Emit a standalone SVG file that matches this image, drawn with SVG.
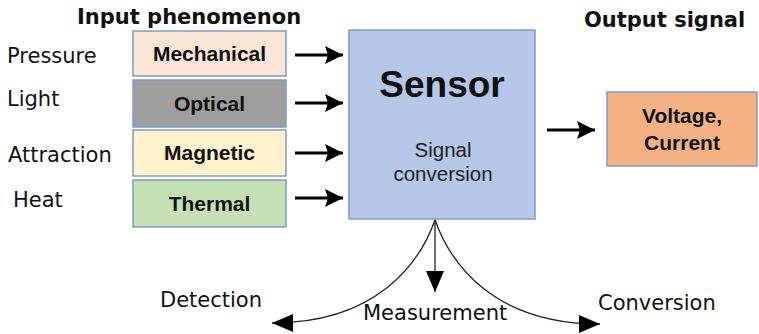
<svg xmlns="http://www.w3.org/2000/svg" width="759" height="334" viewBox="0 0 759 334">
<style>
.box{stroke:#7f9cc4;stroke-width:1.5}
.bt{font-family:"Liberation Sans",Arial,sans-serif;font-weight:bold;font-size:21px;fill:#111;text-anchor:middle}
.lbl{font-family:"DejaVu Sans",Verdana,sans-serif;font-size:21px;fill:#111}
.ttl{font-family:"DejaVu Sans",Verdana,sans-serif;font-weight:bold;font-size:21px;fill:#111}
.thick{stroke:#000;stroke-width:3;fill:none}
.thin{stroke:#222;stroke-width:1.3;fill:none}
</style>
<defs>
<marker id="ah" markerUnits="userSpaceOnUse" markerWidth="20" markerHeight="20" refX="18" refY="9" orient="auto">
<path d="M0,0 L18,9 L0,18 L3,9 Z" fill="#000"/>
</marker>
<marker id="ah2" markerUnits="userSpaceOnUse" markerWidth="24" markerHeight="22" refX="21" refY="9" orient="auto">
<path d="M0,0 L21,9 L0,18 Z" fill="#000"/>
</marker>
</defs>
<rect width="759" height="334" fill="#fff"/>
<text class="ttl" x="77" y="24">Input phenomenon</text>
<text class="ttl" x="584" y="27">Output signal</text>
<g id="labels">
<text class="lbl" x="7" y="63">Pressure</text>
<text class="lbl" x="7" y="106">Light</text>
<text class="lbl" x="8" y="162">Attraction</text>
<text class="lbl" x="13" y="207">Heat</text>
</g>
<g id="mechanical"><rect class="box" x="133" y="31" width="153" height="45" fill="#fbe5d6"/><text class="bt" x="209.5" y="61">Mechanical</text></g>
<g id="optical"><rect class="box" x="133" y="80" width="153" height="47" fill="#9e9e9e"/><text class="bt" x="209.5" y="111">Optical</text></g>
<g id="magnetic"><rect class="box" x="133" y="130" width="153" height="46" fill="#fff2cc"/><text class="bt" x="209.5" y="160">Magnetic</text></g>
<g id="thermal"><rect class="box" x="133" y="180" width="153" height="47" fill="#c5e0b4"/><text class="bt" x="209.5" y="211">Thermal</text></g>
<g id="sensor"><rect class="box" x="349" y="30" width="186" height="189" fill="#b4c7e7"/>
<text x="442" y="97" text-anchor="middle" font-family="'Liberation Sans',Arial,sans-serif" font-weight="bold" font-size="37" fill="#111">Sensor</text>
<text x="443" y="157" text-anchor="middle" font-family="'Liberation Sans',Arial,sans-serif" font-size="20.5" fill="#222">Signal</text>
<text x="443" y="181" text-anchor="middle" font-family="'Liberation Sans',Arial,sans-serif" font-size="20.5" fill="#222">conversion</text>
</g>
<g id="output"><rect class="box" x="607" y="92" width="150" height="74" fill="#f4b183"/>
<text class="bt" x="682" y="123">Voltage,</text>
<text class="bt" x="682" y="150">Current</text>
</g>
<g id="bottom-labels">
<text class="lbl" x="160" y="307">Detection</text>
<text class="lbl" x="363" y="320">Measurement</text>
<text class="lbl" x="598" y="310">Conversion</text>
</g>
<g id="connectors">
<line class="thick" x1="295" y1="55" x2="343" y2="55" marker-end="url(#ah)"/>
<line class="thick" x1="295" y1="103" x2="343" y2="103" marker-end="url(#ah)"/>
<line class="thick" x1="295" y1="153" x2="343" y2="153" marker-end="url(#ah)"/>
<line class="thick" x1="295" y1="198" x2="343" y2="198" marker-end="url(#ah)"/>
<line class="thick" x1="547" y1="130" x2="595" y2="130" marker-end="url(#ah)"/>
<line class="thin" x1="435" y1="220" x2="435" y2="292" marker-end="url(#ah2)"/>
<path class="thin" d="M435,220 C420,262 378,323 272,323" marker-end="url(#ah2)"/>
<path class="thin" d="M435,220 C450,262 492,324 600,324" marker-end="url(#ah2)"/>
</g>
</svg>
